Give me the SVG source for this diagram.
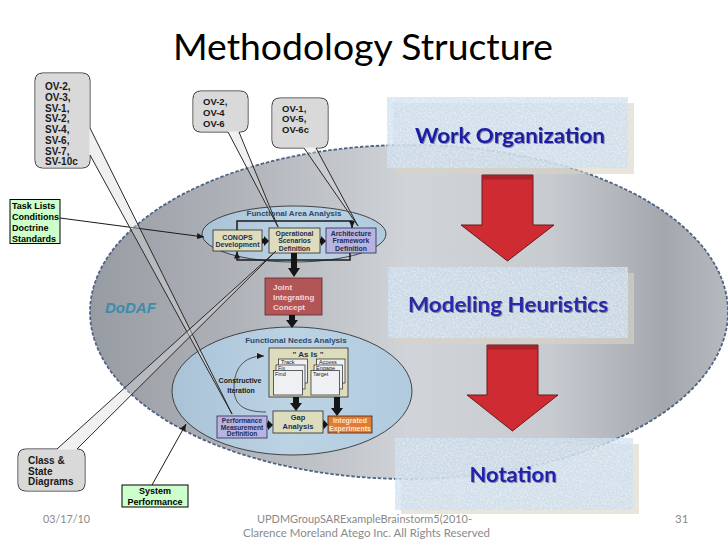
<svg xmlns="http://www.w3.org/2000/svg" width="728" height="546" viewBox="0 0 728 546">
<defs>
  <linearGradient id="bigG" x1="0" y1="0" x2="1" y2="0">
    <stop offset="0" stop-color="#979ba2"/>
    <stop offset="0.2" stop-color="#acb0b6"/>
    <stop offset="0.5" stop-color="#d0d3d7"/>
    <stop offset="0.72" stop-color="#c8cbd0"/>
    <stop offset="0.9" stop-color="#a4a8ae"/>
    <stop offset="1" stop-color="#b6babf"/>
  </linearGradient>
  <linearGradient id="inG" x1="0" y1="0" x2="1" y2="0">
    <stop offset="0" stop-color="#a9c2d6"/>
    <stop offset="0.5" stop-color="#bcd3e4"/>
    <stop offset="1" stop-color="#b1cadd"/>
  </linearGradient>
  <marker id="ah" markerUnits="userSpaceOnUse" markerWidth="7" markerHeight="6" refX="7" refY="3" orient="auto">
    <path d="M0,0 L7,3 L0,6 Z" fill="#1a1a1a"/>
  </marker>
  <filter id="tex" x="0" y="0" width="100%" height="100%">
    <feTurbulence type="fractalNoise" baseFrequency="0.55" numOctaves="3" seed="7" result="noise"/>
    <feColorMatrix in="noise" type="matrix" values="0 0 0 0 1  0 0 0 0 1  0 0 0 0 1  1.4 0 0 0 -0.55" result="spots"/>
    <feComposite in="spots" in2="SourceAlpha" operator="in" result="sp2"/>
    <feMerge><feMergeNode in="SourceGraphic"/><feMergeNode in="sp2"/></feMerge>
  </filter>
  <filter id="tsh" x="-5%" y="-20%" width="110%" height="140%">
    <feDropShadow dx="1" dy="1" stdDeviation="0.6" flood-color="#404060" flood-opacity="0.55"/>
  </filter>
</defs>
<style>
  .b { font-family: "Liberation Sans", Arial, sans-serif; font-weight: bold; }
  .call { fill: #d9d9d9; fill-opacity: 0.4; stroke: #2a2a2a; stroke-width: 1; }
  .cover { fill: #d9d9d9; }
  .ct { font-size: 10px; fill: #1a1a1a; }
  .green { fill: #ccffcc; stroke: #000; stroke-width: 1; }
  .gt { font-size: 9px; fill: #000; }
  .khaki { fill: #dddcbc; stroke: #2a2a2a; stroke-width: 0.8; }
  .lav { fill: #b7b3e3; stroke: #2a2a4a; stroke-width: 0.8; }
  .it { fill: #1f2d4d; text-anchor: middle; }
  .inell { fill: url(#inG); stroke: #222; stroke-width: 0.8; }
  .eh { font-size: 8px; fill: #2c4a6e; text-anchor: middle; }
  .page { fill: #eef0f4; stroke: #222; stroke-width: 0.7; }
  .pt { font-family: "Liberation Sans", Arial, sans-serif; font-size: 5.5px; fill: #222; }
  .thick { fill: #151515; }
  .thin { fill: none; stroke: #1a1a1a; stroke-width: 1.5; }
  .rbox { fill: #c8dcf0; fill-opacity: 0.72; filter: url(#tex); }
  .rsh { fill: #d8d4c4; fill-opacity: 0.6; }
  .rt { font-family: Lato, "Open Sans", sans-serif; font-weight: bold; text-anchor: middle; filter: url(#tsh); }
  .red { fill: #cf2b33; stroke: #6b1a1a; stroke-width: 1; }
  .ft { font-family: Lato, "Open Sans", sans-serif; font-size: 11.5px; fill: #8a8a8a; }
</style>

<rect x="0" y="0" width="728" height="546" fill="#ffffff"/>

<text x="363" y="60" font-family="Lato, 'Open Sans', sans-serif" font-size="37" text-anchor="middle" textLength="380" lengthAdjust="spacingAndGlyphs" fill="#000">Methodology Structure</text>

<g id="dodaf">
  <ellipse cx="409" cy="312" rx="319" ry="167" fill="url(#bigG)" stroke="#4e6482" stroke-width="1.8" stroke-dasharray="3.5 1.8"/>
  <text x="105" y="313" font-family="Liberation Sans, Arial, sans-serif" font-weight="bold" font-style="italic" font-size="15" fill="#3c8caa">DoDAF</text>
</g>

<g id="work-organization">
  <rect class="rsh" x="393" y="103" width="241" height="71"/>
  <rect class="rbox" x="387" y="97" width="241" height="71"/>
  <text class="rt" x="510" y="143" font-size="21" fill="#1c1ca8" textLength="190" lengthAdjust="spacingAndGlyphs">Work Organization</text>
</g>
<g id="modeling-heuristics">
  <rect class="rsh" x="394" y="273" width="240" height="71"/>
  <rect class="rbox" x="388" y="267" width="240" height="71"/>
  <text class="rt" x="508" y="312" font-size="21" fill="#2a2aa8" textLength="200" lengthAdjust="spacingAndGlyphs">Modeling Heuristics</text>
</g>
<g id="notation">
  <rect class="rsh" x="401" y="444" width="238" height="70"/>
  <rect class="rbox" x="395" y="438" width="238" height="72"/>
  <text class="rt" x="513" y="482" font-size="21" fill="#2020b0" textLength="87" lengthAdjust="spacingAndGlyphs">Notation</text>
</g>

<g id="red-arrow-1">
  <path class="red" d="M482,175 H533 V225 H554 L507.5,261 L461,225 H482 Z"/>
  <rect x="482.5" y="175.5" width="50" height="4" fill="#a82228"/>
</g>
<g id="red-arrow-2">
  <path class="red" d="M487,345 H538 V395 H558 L512.5,431 L467,395 H487 Z"/>
  <rect x="487.5" y="345.5" width="50" height="4" fill="#a82228"/>
</g>

<g id="functional-area-analysis">
  <ellipse class="inell" cx="294" cy="234" rx="92" ry="28"/>
  <text class="b eh" x="294" y="216">Functional Area Analysis</text>
</g>
<g id="conops">
  <rect class="khaki" x="213" y="230" width="49" height="21"/>
  <text class="b it" font-size="7" x="237.5" y="239.8">CONOPS</text>
  <text class="b it" font-size="7" x="237.5" y="247.4">Development</text>
</g>
<g id="operational-scenarios">
  <rect class="khaki" x="269" y="228" width="51" height="25"/>
  <text class="b it" font-size="6.8" x="294.5" y="235.6">Operational</text>
  <text class="b it" font-size="6.8" x="294.5" y="243.1">Scenarios</text>
  <text class="b it" font-size="6.8" x="294.5" y="250.6">Definition</text>
</g>
<g id="architecture-framework">
  <rect class="lav" x="326" y="228" width="50" height="25"/>
  <text class="b it" font-size="6.9" x="351" y="235.6">Architecture</text>
  <text class="b it" font-size="6.9" x="351" y="243.1">Framework</text>
  <text class="b it" font-size="6.9" x="351" y="250.6">Definition</text>
</g>
<g id="joint-integrating-concept">
  <rect x="265" y="278" width="57" height="37" fill="#b25557" stroke="#5a2a2a" stroke-width="0.8"/>
  <text class="b" font-size="8" fill="#f2d8d8" x="273" y="289.5">Joint</text>
  <text class="b" font-size="8" fill="#f2d8d8" x="273" y="299.5">Integrating</text>
  <text class="b" font-size="8" fill="#f2d8d8" x="273" y="310">Concept</text>
</g>

<g id="functional-needs-analysis">
  <ellipse class="inell" cx="292" cy="391" rx="120" ry="64"/>
  <text class="b eh" x="296" y="343">Functional Needs Analysis</text>
</g>
<g id="as-is">
  <rect class="khaki" x="269" y="348" width="79" height="49"/>
  <text class="b it" font-size="8" x="308" y="356.5" fill="#2a3a50">" As Is "</text>
  <rect class="page" x="278.5" y="359" width="29" height="24"/>
  <text class="pt" x="281" y="364">Track</text>
  <rect class="page" x="276" y="365" width="29" height="24"/>
  <text class="pt" x="278" y="370">Fix</text>
  <rect class="page" x="273.5" y="370.5" width="29" height="24.5"/>
  <text class="pt" x="275" y="375.5">Find</text>
  <rect class="page" x="316.5" y="359" width="28.5" height="24"/>
  <text class="pt" x="319" y="364">Access</text>
  <rect class="page" x="314" y="365" width="28.5" height="24"/>
  <text class="pt" x="316" y="370">Engage</text>
  <rect class="page" x="311" y="370.5" width="28.5" height="24.5"/>
  <text class="pt" x="313" y="375.5">Target</text>
</g>
<g id="constructive-iteration">
  <path d="M266,412 C240,412 234,402 234,388 C234,370 242,356 264,356" fill="none" stroke="#333" stroke-width="0.8" marker-end="url(#ah)"/>
  <text class="b" font-size="7" fill="#1a1a1a" text-anchor="middle" x="240" y="383">Constructive</text>
  <text class="b" font-size="7" fill="#1a1a1a" text-anchor="middle" x="241" y="392.5">Iteration</text>
</g>
<g id="gap-analysis">
  <rect class="khaki" x="273" y="411" width="50" height="22"/>
  <text class="b it" font-size="7.5" x="298" y="420">Gap</text>
  <text class="b it" font-size="7.5" x="298" y="428.5">Analysis</text>
</g>
<g id="integrated-experiments">
  <rect x="328" y="416" width="44" height="17" fill="#e07b39" stroke="#3a2a1a" stroke-width="0.8"/>
  <text class="b" font-size="7" fill="#fde6c6" text-anchor="middle" x="350" y="423.3">Integrated</text>
  <text class="b" font-size="7" fill="#fde6c6" text-anchor="middle" x="350" y="431">Experiments</text>
</g>
<g id="performance-measurement">
  <rect class="lav" x="217" y="416" width="50" height="22"/>
  <text class="b it" font-size="6.6" x="242" y="422.6">Performance</text>
  <text class="b it" font-size="6.6" x="242" y="429.5">Measurement</text>
  <text class="b it" font-size="6.6" x="242" y="436.4">Definition</text>
</g>

<g id="connectors">
  <path class="thin" d="M237,230 V221 H352 V228" marker-end="url(#ah)"/>
  <path class="thin" d="M350,253 V260 H237 V251.5" marker-end="url(#ah)"/>
  <path class="thick" d="M262,238.5 H264 V236 L269,241 L264,246 V243.5 H262 Z"/>
  <path class="thick" d="M320,238.5 H321 V236 L326,241 L321,246 V243.5 H320 Z"/>
  <path class="thick" d="M291,253 V268 H288 L294,277 L300,268 H297 V253 Z"/>
  <path class="thick" d="M289,315 V320 H286 L292,328 L298,320 H295 V315 Z"/>
  <path class="thick" d="M293,397 V403 H290 L296,411 L302,403 H299 V397 Z"/>
  <path class="thick" d="M334,397 V408 H331 L337,416 L343,408 H340 V397 Z"/>
  <path class="thick" d="M267,422.5 H268 V420 L273,425 L268,430 V427.5 H267 Z"/>
  <path class="thick" d="M323,422 H323.5 V419.5 L328,424.5 L323.5,429.5 V427 H323 Z"/>
  <line x1="60" y1="218" x2="204" y2="237" stroke="#1a1a1a" stroke-width="1" marker-end="url(#ah)"/>
  <line x1="152" y1="485" x2="186" y2="424" stroke="#1a1a1a" stroke-width="1" marker-end="url(#ah)"/>
</g>

<g id="callout-sv">
  <path class="call" d="M43,73 H82 Q90,73 90,81 V128 L232,414 L90,155 V160 Q90,168 82,168 H43 Q35,168 35,160 V81 Q35,73 43,73 Z"/>
  <rect class="cover" x="35.5" y="73.5" width="54" height="94" rx="7.5"/>
  <text class="b ct" x="45" y="90.3">OV-2,<tspan x="45" dy="10.7">OV-3,</tspan><tspan x="45" dy="10.7">SV-1,</tspan><tspan x="45" dy="10.7">SV-2,</tspan><tspan x="45" dy="10.7">SV-4,</tspan><tspan x="45" dy="10.7">SV-6,</tspan><tspan x="45" dy="10.7">SV-7,</tspan><tspan x="45" dy="10.7">SV-10c</tspan></text>
</g>
<g id="callout-ov246">
  <path class="call" d="M201,91 H240 Q248,91 248,99 V124 Q248,132 240,132 H239 L278,227 L228,132 H201 Q193,132 193,124 V99 Q193,91 201,91 Z"/>
  <rect class="cover" x="193.5" y="91.5" width="54" height="40" rx="7.5"/>
  <text class="b" font-size="9.5" fill="#1a1a1a" x="203" y="105">OV-2,<tspan x="203" dy="10.8">OV-4</tspan><tspan x="203" dy="10.8">OV-6</tspan></text>
</g>
<g id="callout-ov156c">
  <path class="call" d="M280,98 H320 Q328,98 328,106 V140 Q328,148 320,148 H316 L358,226 L304,148 H280 Q272,148 272,140 V106 Q272,98 280,98 Z"/>
  <rect class="cover" x="272.5" y="98.5" width="55" height="49" rx="7.5"/>
  <text class="b" font-size="9.5" fill="#1a1a1a" x="282" y="111.5">OV-1,<tspan x="282" dy="10.5">OV-5,</tspan><tspan x="282" dy="10.5">OV-6c</tspan></text>
</g>
<g id="callout-class-state">
  <path class="call" d="M26,449 H57 L276,251 L77,449 Q85,449 85,457 V483 Q85,491 77,491 H26 Q18,491 18,483 V457 Q18,449 26,449 Z"/>
  <rect class="cover" x="18.5" y="449.5" width="66" height="41" rx="7.5"/>
  <text class="b ct" x="28" y="463.6">Class &amp;<tspan x="28" dy="10.9">State</tspan><tspan x="28" dy="10.9">Diagrams</tspan></text>
</g>

<g id="task-lists">
  <rect class="green" x="10" y="199.5" width="50" height="44"/>
  <text class="b gt" x="12" y="209.4">Task Lists<tspan x="12" dy="10.8">Conditions</tspan><tspan x="12" dy="10.8">Doctrine</tspan><tspan x="12" dy="10.8">Standards</tspan></text>
</g>
<g id="system-performance">
  <rect class="green" x="122" y="485" width="66" height="22"/>
  <text class="b gt" text-anchor="middle" x="155" y="494">System</text>
  <text class="b gt" text-anchor="middle" x="155" y="505">Performance</text>
</g>

<g id="footer">
  <text class="ft" x="43" y="523" textLength="47" lengthAdjust="spacingAndGlyphs">03/17/10</text>
  <text class="ft" x="364.5" y="523" text-anchor="middle" textLength="215" lengthAdjust="spacingAndGlyphs">UPDMGroupSARExampleBrainstorm5(2010-</text>
  <text class="ft" x="366.5" y="537" text-anchor="middle" textLength="247" lengthAdjust="spacingAndGlyphs">Clarence Moreland Atego Inc.  All Rights Reserved</text>
  <text class="ft" x="675" y="523">31</text>
</g>
</svg>
